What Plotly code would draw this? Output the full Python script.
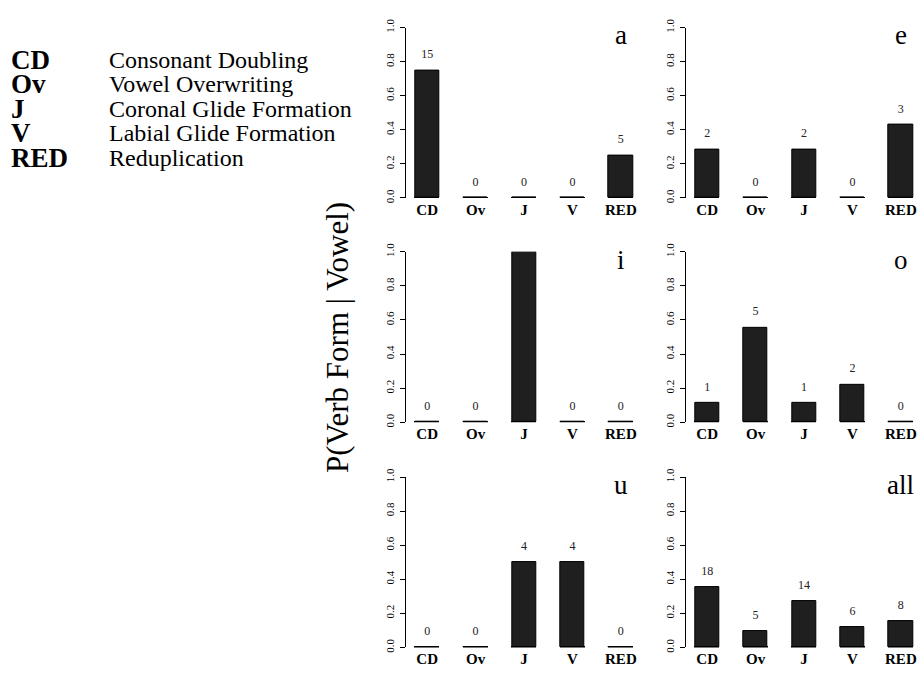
import plotly.graph_objects as go

# ---------------- data ----------------
categories = ["CD", "Ov", "J", "V", "RED"]
panel_names = ["a", "e", "i", "o", "u", "all"]

counts_a = [15, 0, 0, 0, 5]
counts_e = [2, 0, 2, 0, 3]
counts_i = [0, 0, 7, 0, 0]
counts_o = [1, 5, 1, 2, 0]
counts_u = [0, 0, 4, 4, 0]
counts_all = [18, 5, 14, 6, 8]

prop_a = [0.75, 0.0, 0.0, 0.0, 0.25]
prop_e = [0.286, 0.0, 0.286, 0.0, 0.429]
prop_i = [0.0, 0.0, 1.0, 0.0, 0.0]
prop_o = [0.111, 0.556, 0.111, 0.222, 0.0]
prop_u = [0.0, 0.0, 0.5, 0.5, 0.0]
prop_all = [0.353, 0.098, 0.275, 0.118, 0.157]

y_ticks = [0.0, 0.2, 0.4, 0.6, 0.8, 1.0]
y_ticklabels = ["0.0", "0.2", "0.4", "0.6", "0.8", "1.0"]

legend_abbr = ["CD", "Ov", "J", "V", "RED"]
legend_desc = ["Consonant Doubling", "Vowel Overwriting", "Coronal Glide Formation",
               "Labial Glide Formation", "Reduplication"]

y_title = "P(Verb Form | Vowel)"

panels = [
    (counts_a, prop_a), (counts_e, prop_e),
    (counts_i, prop_i), (counts_o, prop_o),
    (counts_u, prop_u), (counts_all, prop_all),
]

# ---------------- layout geometry (pixels) ----------------
W, H = 917, 673
col_px = [(406.3, 641.7), (686.3, 917.0)]
row_px = [(19, 193), (248, 422), (478, 652)]
ppc = (641.7 - 406.3) / 4.86   # pixels per category step
x_left = -0.43

SERIF = "Liberation Serif"
BAR_FILL = "#1f1f1f"

fig = go.Figure()
layout_axes = {}

for k, ((cnt, prop), name) in enumerate(zip(panels, panel_names)):
    r, c = divmod(k, 2)
    idx = k + 1
    xa = "x" if idx == 1 else f"x{idx}"
    ya = "y" if idx == 1 else f"y{idx}"
    x0, x1 = col_px[c]
    y0, y1 = row_px[r]

    fig.add_trace(go.Bar(
        x=categories, y=prop, xaxis=xa, yaxis=ya, width=0.5,
        marker=dict(color=BAR_FILL, line=dict(color="black", width=1)),
        showlegend=False, cliponaxis=False, hoverinfo="skip"))
    # zero-height bar outlines (drawn as thin baseline segments)
    fig.add_trace(go.Bar(
        x=categories, y=[0.006] * len(categories), base=[-0.003] * len(categories),
        xaxis=xa, yaxis=ya, width=0.52,
        marker=dict(color="black", line=dict(width=0)),
        showlegend=False, cliponaxis=False, hoverinfo="skip"))
    fig.add_trace(go.Scatter(
        x=categories, y=[p + 0.088 for p in prop], xaxis=xa, yaxis=ya,
        mode="text", text=[str(v) for v in cnt],
        textfont=dict(family=SERIF, size=12, color="#222222"),
        textposition="middle center", showlegend=False, cliponaxis=False,
        hoverinfo="skip"))

    x_right = x_left + (x1 - x0) / ppc
    layout_axes["xaxis" if idx == 1 else f"xaxis{idx}"] = dict(
        domain=[x0 / W, x1 / W], anchor=ya, type="category",
        range=[x_left, x_right], showline=False, showgrid=False, zeroline=False,
        ticks="", tickfont=dict(family=SERIF, size=15, color="black", weight="bold"),
        ticklabelstandoff=1, fixedrange=True)
    layout_axes["yaxis" if idx == 1 else f"yaxis{idx}"] = dict(
        domain=[1 - y1 / H, 1 - y0 / H], anchor=xa, range=[0, 1],
        tickvals=y_ticks, ticktext=y_ticklabels, tickangle=-90,
        tickfont=dict(family=SERIF, size=11, color="black"),
        ticks="outside", ticklen=5, tickwidth=1, tickcolor="black",
        ticklabelstandoff=2,
        showline=True, linecolor="black", linewidth=1,
        showgrid=False, zeroline=False, fixedrange=True)

    fig.add_annotation(x="RED", y=0.955, xref=xa, yref=ya, text=name,
                       showarrow=False, xanchor="center", yanchor="middle",
                       font=dict(family=SERIF, size=27, color="black"))

# y-axis title
fig.add_annotation(x=337 / W, y=1 - 336 / H, xref="paper", yref="paper",
                   text=y_title, textangle=-90, showarrow=False,
                   xanchor="center", yanchor="middle",
                   font=dict(family=SERIF, size=31, color="black"))

# legend text block
for i, (ab, desc) in enumerate(zip(legend_abbr, legend_desc)):
    ypx = 52 + i * 25
    fig.add_annotation(x=9 / W, y=1 - ypx / H, xref="paper", yref="paper",
                       text=f"<b>{ab}</b>", showarrow=False,
                       xanchor="left", yanchor="middle",
                       font=dict(family=SERIF, size=27, color="black"))
    fig.add_annotation(x=107 / W, y=1 - ypx / H, xref="paper", yref="paper",
                       text=desc, showarrow=False,
                       xanchor="left", yanchor="middle",
                       font=dict(family=SERIF, size=24, color="black"))

fig.update_layout(
    width=W, height=H, margin=dict(l=0, r=0, t=0, b=0),
    paper_bgcolor="white", plot_bgcolor="white",
    barmode="overlay", bargap=0, showlegend=False,
    **layout_axes)

fig.write_html("out.html")
